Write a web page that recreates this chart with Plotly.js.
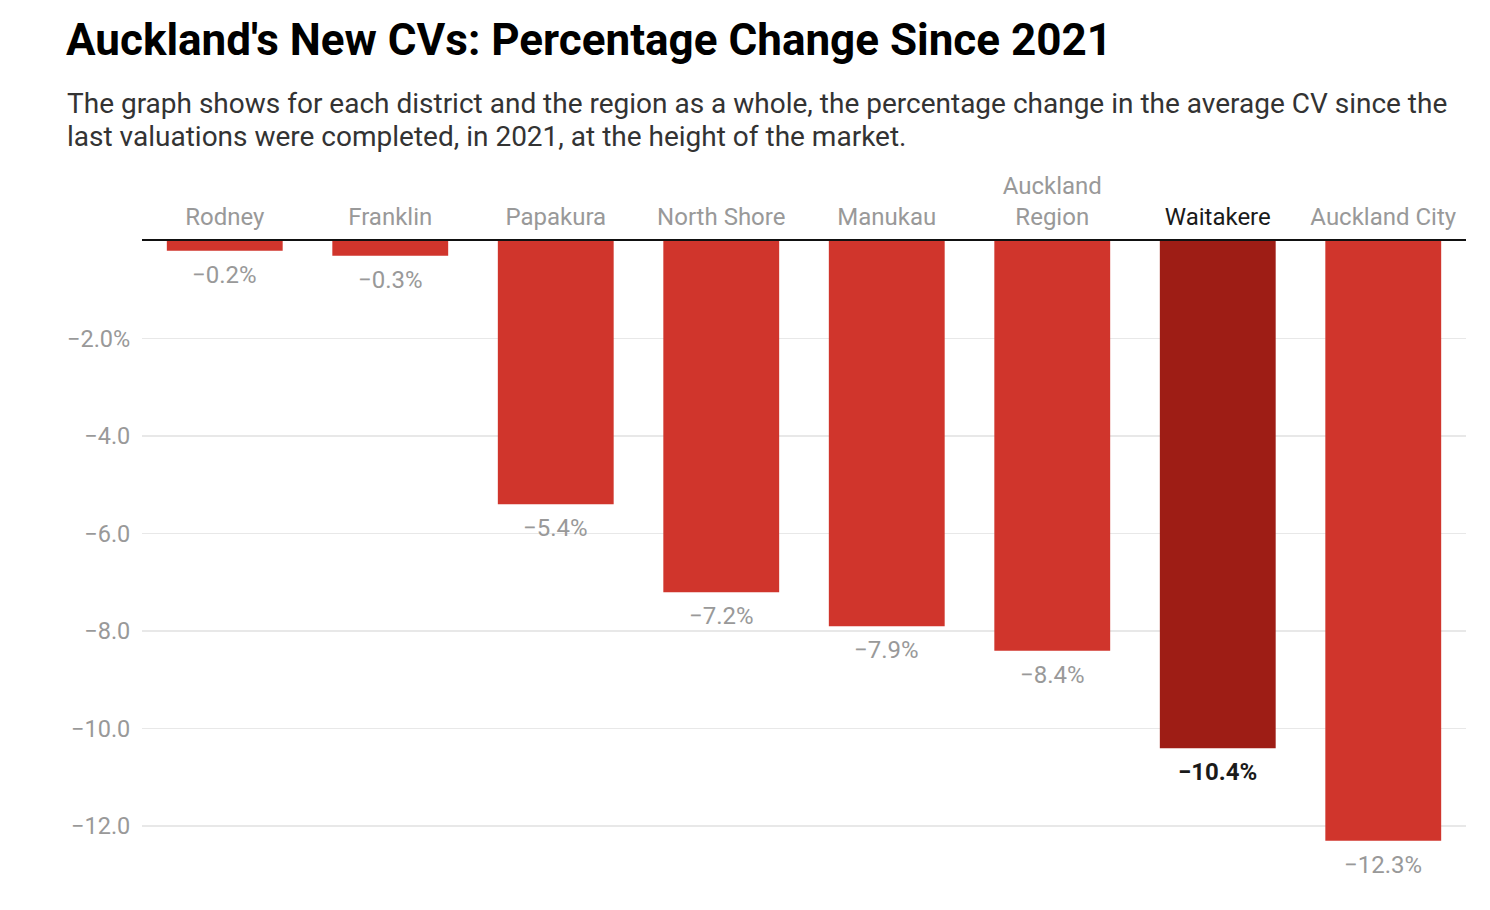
<!DOCTYPE html>
<html>
<head>
<meta charset="utf-8">
<script src="https://cdn.plot.ly/plotly-3.0.1.min.js"></script>
<style>
html,body{margin:0;padding:0;background:#fff;}
#chart{width:1490px;height:910px;}
</style>
</head>
<body>
<div id="chart"></div>
<script>
const categories = ["Rodney", "Franklin", "Papakura", "North Shore", "Manukau", "Auckland Region", "Waitakere", "Auckland City"];
const categoryLabels = ["Rodney", "Franklin", "Papakura", "North Shore", "Manukau", "Auckland<br>Region", "Waitakere", "Auckland City"];
const values = [-0.2, -0.3, -5.4, -7.2, -7.9, -8.4, -10.4, -12.3];
const valueLabels = ["−0.2%", "−0.3%", "−5.4%", "−7.2%", "−7.9%", "−8.4%", "−10.4%", "−12.3%"];
const highlight = "Waitakere";
const yTickVals = [-2, -4, -6, -8, -10, -12];
const yTickText = ["−2.0%", "−4.0", "−6.0", "−8.0", "−10.0", "−12.0"];
const subtitleLines = [
  "The graph shows for each district and the region as a whole, the percentage change in the average CV since the",
  "last valuations were completed, in 2021, at the height of the market."
];

const RED = "#d0352c";
const DARK = "#9e1d15";
const GREY = "#999999";
const BLACK = "#1a1a1a";

const tickText = categories.map((c, i) =>
  c === highlight ? `<span style="color:${BLACK}">${categoryLabels[i]}</span>` : categoryLabels[i]);

const trace = {
  type: "bar",
  x: categories,
  y: values,
  marker: { color: categories.map(c => c === highlight ? DARK : RED) },
  width: 0.7,
  hoverinfo: "x+y"
};

const annotations = categories.map((c, i) => ({
  x: c, y: values[i], xref: "x", yref: "y",
  text: c === highlight ? `<b>${valueLabels[i]}</b>` : valueLabels[i],
  showarrow: false, yanchor: "top", yshift: -8,
  font: { family: "Roboto", size: 24, color: c === highlight ? BLACK : GREY }
}));

const PH = 633.75;
subtitleLines.forEach((line, i) => {
  annotations.push({
    xref: "paper", yref: "paper", x: (65 - 142) / 1324, y: (874.75 - (104 + 33 * i)) / PH,
    xanchor: "left", yanchor: "middle", align: "left", showarrow: false,
    text: line,
    font: { family: "Roboto", size: 28, color: "#333333" }
  });
});

const layout = {
  width: 1490, height: 910,
  margin: { l: 142, r: 24, t: 241, b: 35.25 },
  paper_bgcolor: "#fff", plot_bgcolor: "#fff",
  font: { family: "Roboto", color: GREY },
  title: {
    text: "<b>Auckland's New CVs: Percentage Change Since 2021</b>",
    xref: "container", yref: "container",
    x: 66 / 1490, xanchor: "left",
    y: 1 - 40 / 910, yanchor: "middle",
    font: { family: "Roboto", size: 44, color: "#000" }
  },
  showlegend: false,
  bargap: 0.3,
  xaxis: {
    side: "top",
    tickvals: categories, ticktext: tickText,
    tickfont: { family: "Roboto", size: 24, color: GREY },
    ticks: "outside", ticklen: 4, tickcolor: "rgba(0,0,0,0)",
    showline: true, linecolor: "#111", linewidth: 2,
    showgrid: false, zeroline: false, fixedrange: true
  },
  yaxis: {
    range: [-13, 0],
    tickvals: yTickVals, ticktext: yTickText,
    tickfont: { family: "Roboto", size: 23.5, color: GREY },
    ticks: "outside", ticklen: 6, tickcolor: "rgba(0,0,0,0)",
    showgrid: true, gridcolor: "#e8e8e8", gridwidth: 1.5,
    zeroline: false, showline: false, fixedrange: true
  },
  annotations: annotations
};

Plotly.newPlot("chart", [trace], layout, { displayModeBar: false, staticPlot: true });
</script>
</body>
</html>
